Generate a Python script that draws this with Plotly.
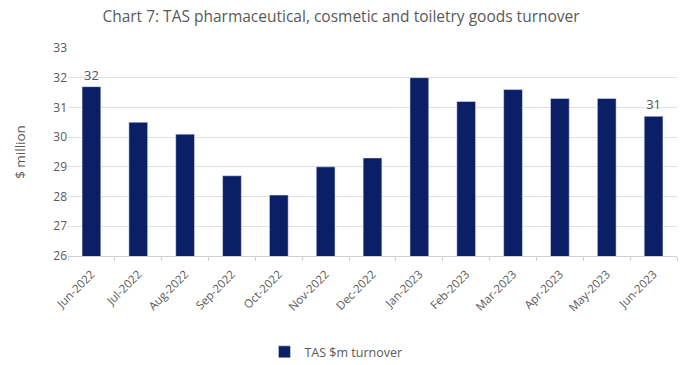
import plotly.graph_objects as go

months = ["Jun-2022", "Jul-2022", "Aug-2022", "Sep-2022", "Oct-2022", "Nov-2022",
          "Dec-2022", "Jan-2023", "Feb-2023", "Mar-2023", "Apr-2023", "May-2023", "Jun-2023"]
turnover = [31.7, 30.5, 30.1, 28.7, 28.05, 29.0, 29.3, 32.0, 31.2, 31.6, 31.3, 31.3, 30.7]
y_ticks = [26, 27, 28, 29, 30, 31, 32, 33]

# only the first and last bars carry a value label
labels = [f"{v:.0f}" if i in (0, len(turnover) - 1) else "" for i, v in enumerate(turnover)]

fig = go.Figure(go.Bar(
    x=months, y=turnover, name="TAS $m turnover",
    marker_color="#0b1f66", width=0.4,
    text=labels, textposition="outside", cliponaxis=False,
    textfont=dict(size=13, color="#555555"),
))

fig.update_layout(
    width=682, height=365,
    margin=dict(l=68, r=5, t=48, b=109, autoexpand=False),
    paper_bgcolor="white", plot_bgcolor="white",
    font=dict(family="Open Sans, Liberation Sans, sans-serif", color="#595959"),
    title=dict(text="Chart 7: TAS pharmaceutical, cosmetic and toiletry goods turnover",
               x=0.5, xanchor="center", y=0.955, yanchor="middle",
               font=dict(size=15.5, color="#595959")),
    showlegend=True,
    legend=dict(orientation="h", x=0.44, xanchor="center", yref="container",
                y=0.035, yanchor="middle", font=dict(size=12.5, color="#595959")),
    bargap=0.6,
)
fig.update_yaxes(range=[26, 33], tickvals=y_ticks, showgrid=True, gridcolor="#e0e0e0",
                 gridwidth=1, zeroline=False, automargin=False,
                 tickfont=dict(size=12, color="#595959"),
                 title=dict(text="$ million", font=dict(size=13.5, color="#595959"), standoff=24))
fig.update_xaxes(tickangle=-45, tickfont=dict(size=11.5, color="#595959"), automargin=False,
                 showline=True, linecolor="#d0d0d0", ticks="outside", ticklen=4,
                 tickcolor="#d0d0d0", tickson="boundaries", ticklabelstandoff=6)

fig.write_html("out.html")
